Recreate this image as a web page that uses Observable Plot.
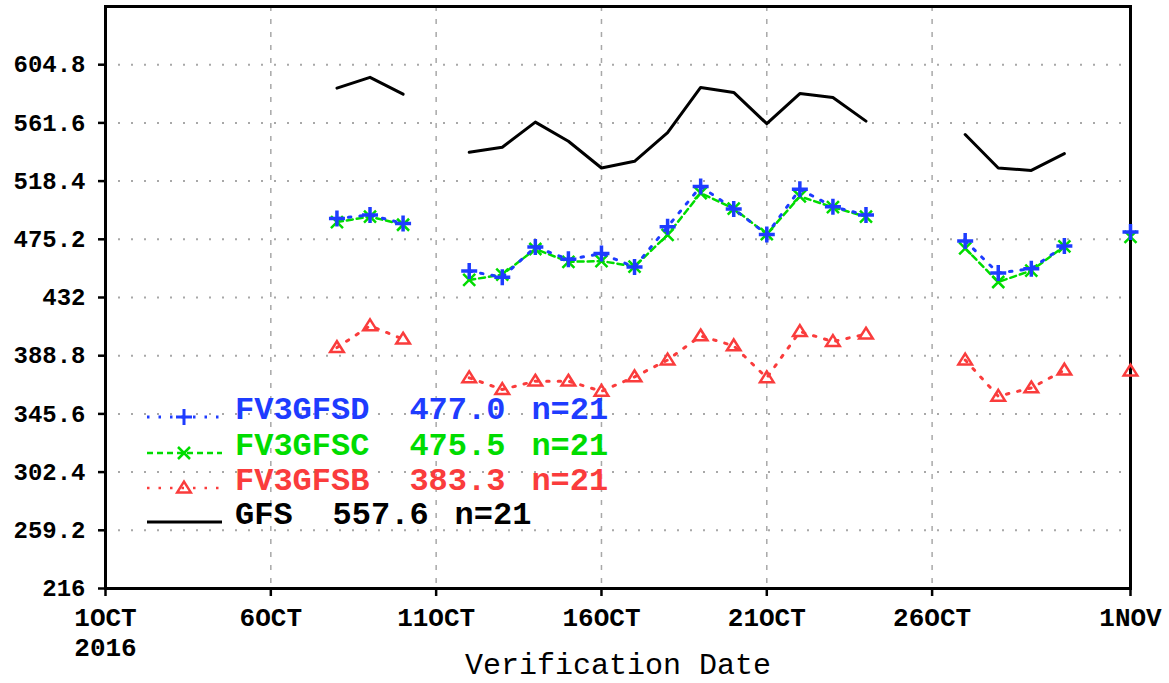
<!DOCTYPE html>
<html><head><meta charset="utf-8">
<script src="https://cdn.jsdelivr.net/npm/d3@7"></script>
<script src="https://cdn.jsdelivr.net/npm/@observablehq/plot@0.6"></script>
<style>
body{margin:0;background:#fff;}
#chart svg{display:block;}
</style>
</head><body><div id="chart"></div>
<script>
// ---- data ----
const days = ["2016-10-08","2016-10-09","2016-10-10","2016-10-11","2016-10-12","2016-10-13","2016-10-14",
  "2016-10-15","2016-10-16","2016-10-17","2016-10-18","2016-10-19","2016-10-20","2016-10-21","2016-10-22",
  "2016-10-23","2016-10-24","2016-10-25","2016-10-26","2016-10-27","2016-10-28","2016-10-29","2016-10-30",
  "2016-10-31","2016-11-01"];
const gfs  = [587.4,595.4,582.9,null,539.8,543.5,562.2,548.0,528.1,533.1,554.3,587.9,584.2,561.0,583.4,580.4,562.9,null,null,553.0,528.1,526.3,538.8,null,529.0];
const fv3d = [490.7,493.2,487.0,null,451.6,447.1,469.5,460.3,464.6,454.6,484.5,514.4,497.7,478.8,512.4,499.4,493.2,null,null,474.0,450.1,453.4,470.3,null,480.7];
const fv3c = [488.0,492.0,486.0,null,445.0,449.0,468.0,458.5,459.0,455.0,478.5,509.5,498.0,479.0,507.0,499.0,492.0,null,null,468.5,443.5,452.0,470.0,null,477.0];
const fv3b = [394.8,411.0,401.1,null,372.4,363.7,369.9,369.9,362.4,373.1,385.6,403.5,396.1,372.4,406.7,399.3,404.8,null,null,385.6,358.7,364.9,378.1,null,377.4];

const seriesNames = ["FV3GFSD","FV3GFSC","FV3GFSB","GFS"];
const seriesMeans = ["477.0","475.5","383.3","557.6"];
const seriesCounts = ["n=21","n=21","n=21","n=21"];

const xTickDates = ["2016-10-01","2016-10-06","2016-10-11","2016-10-16","2016-10-21","2016-10-26","2016-11-01"];
const xTickLabels = ["1OCT\n2016","6OCT","11OCT","16OCT","21OCT","26OCT","1NOV"];
const yTicks = [216,259.2,302.4,345.6,388.8,432,475.2,518.4,561.6,604.8];
const yTickLabels = ["216","259.2","302.4","345.6","388.8","432","475.2","518.4","561.6","604.8"];
const xLabel = "Verification Date";

// ---- styles ----
const colors = {d:"#1e3cff", c:"#00dc00", b:"#fa3c3c", g:"#000000"};
const FONT = "'Liberation Mono', 'DejaVu Sans Mono', monospace";

const symPlus = {draw(ctx, size){const r=Math.sqrt(size/Math.PI); ctx.moveTo(-r,0);ctx.lineTo(r,0);ctx.moveTo(0,-r);ctx.lineTo(0,r);}};
const symTimes = {draw(ctx, size){const r=Math.sqrt(size/Math.PI)*0.75; ctx.moveTo(-r,-r);ctx.lineTo(r,r);ctx.moveTo(-r,r);ctx.lineTo(r,-r);}};
const symTri = {draw(ctx, size){const r=Math.sqrt(size/Math.PI); ctx.moveTo(0,-r*0.8);ctx.lineTo(r*0.85,r*0.55);ctx.lineTo(-r*0.85,r*0.55);ctx.closePath();}};

const parse = s => new Date(s + "T00:00:00Z");
const rows = days.map((d,i)=>({date:parse(d), g:gfs[i], d:fv3d[i], c:fv3c[i], b:fv3b[i]}));
const def = k => rows.filter(r => r[k] != null);
const xTicks = xTickDates.map(parse);

const plot = Plot.plot({
  width: 1169, height: 683,
  marginLeft: 105, marginRight: 39, marginTop: 6, marginBottom: 95,
  style: {fontFamily: FONT, background: "#fff", overflow: "visible"},
  x: {type: "utc", domain: [parse("2016-10-01"), parse("2016-11-01")]},
  y: {domain: [216, 648]},
  marks: [
    Plot.gridY(yTicks, {stroke: "#a8a8a8", strokeOpacity: 1, strokeWidth: 2, strokeDasharray: "2,11"}),
    Plot.gridX(xTicks, {stroke: "#a8a8a8", strokeOpacity: 1, strokeWidth: 1.5, strokeDasharray: "5,8"}),
    Plot.axisY(yTicks, {tickSize: 7, tickPadding: 13, tickFormat: (d,i) => yTickLabels[i],
      fontSize: 24, fontWeight: "bold", fill: "#000", strokeWidth: 2.5, label: null}),
    Plot.axisX(xTicks, {tickSize: 8, tickPadding: 8, tickFormat: (d,i) => xTickLabels[i],
      fontSize: 26, fontWeight: "bold", strokeWidth: 2.5, label: null, lineHeight: 1.15}),
    Plot.text([xLabel], {frameAnchor: "bottom", dy: 76, fontSize: 30, fill: "#000", textAnchor: "middle", lineAnchor: "middle"}),
    Plot.frame({stroke: "#000", strokeWidth: 3}),
    Plot.line(rows, {x: "date", y: "g", stroke: colors.g, strokeWidth: 3}),
    Plot.line(rows, {x: "date", y: "b", stroke: colors.b, strokeWidth: 3, strokeDasharray: "2.5,9"}),
    Plot.dot(def("b"), {x: "date", y: "b", symbol: symTri, r: 8, fill: "none", stroke: colors.b, strokeWidth: 2.5}),
    Plot.line(rows, {x: "date", y: "c", stroke: colors.c, strokeWidth: 2.5, strokeDasharray: "6,4"}),
    Plot.dot(def("c"), {x: "date", y: "c", symbol: symTimes, r: 8, fill: "none", stroke: colors.c, strokeWidth: 2.5}),
    Plot.line(rows, {x: "date", y: "d", stroke: colors.d, strokeWidth: 3, strokeDasharray: "2.5,9"}),
    Plot.dot(def("d"), {x: "date", y: "d", symbol: symPlus, r: 8, fill: "none", stroke: colors.d, strokeWidth: 3.5})
  ]
});
document.getElementById("chart").appendChild(plot);

// ---- legend (drawn into the same svg) ----
const svg = d3.select(plot);
const lg = svg.append("g").attr("font-family", FONT).attr("font-weight", "bold")
  .attr("font-size", 32).attr("text-anchor", "start");
const legendItems = [
  {name: seriesNames[0], mean: seriesMeans[0], n: seriesCounts[0], color: colors.d, dash: "2.5,9", sym: symPlus, sw: 3},
  {name: seriesNames[1], mean: seriesMeans[1], n: seriesCounts[1], color: colors.c, dash: "6,4", sym: symTimes, sw: 2.5},
  {name: seriesNames[2], mean: seriesMeans[2], n: seriesCounts[2], color: colors.b, dash: "2.5,9", sym: symTri, sw: 2.5},
  {name: seriesNames[3], mean: seriesMeans[3], n: seriesCounts[3], color: colors.g, dash: null, sym: null, sw: 3}
];
const rowY = [408, 444, 479, 513];
legendItems.forEach((it, i) => {
  const ty = rowY[i], ly = ty + 9;
  lg.append("line").attr("x1", 147).attr("x2", 222).attr("y1", ly).attr("y2", ly)
    .attr("stroke", it.color).attr("stroke-width", it.sw).attr("stroke-dasharray", it.dash);
  if (it.sym) {
    lg.append("path").attr("d", d3.symbol(it.sym, Math.PI*64)()).attr("transform", `translate(184,${ly})`)
      .attr("fill", "none").attr("stroke", it.color).attr("stroke-width", it.sw);
  }
  const nameW = it.name.length * 19.2;
  lg.append("text").attr("x", 235).attr("y", ty).attr("dy", "0.35em").attr("fill", it.color).text(it.name);
  const mx = 235 + nameW + 40;
  lg.append("text").attr("x", mx).attr("y", ty).attr("dy", "0.35em").attr("fill", it.color).text(it.mean);
  lg.append("text").attr("x", mx + 5*19.2 + 26).attr("y", ty).attr("dy", "0.35em").attr("fill", it.color).text(it.n);
});
</script>
</body></html>
